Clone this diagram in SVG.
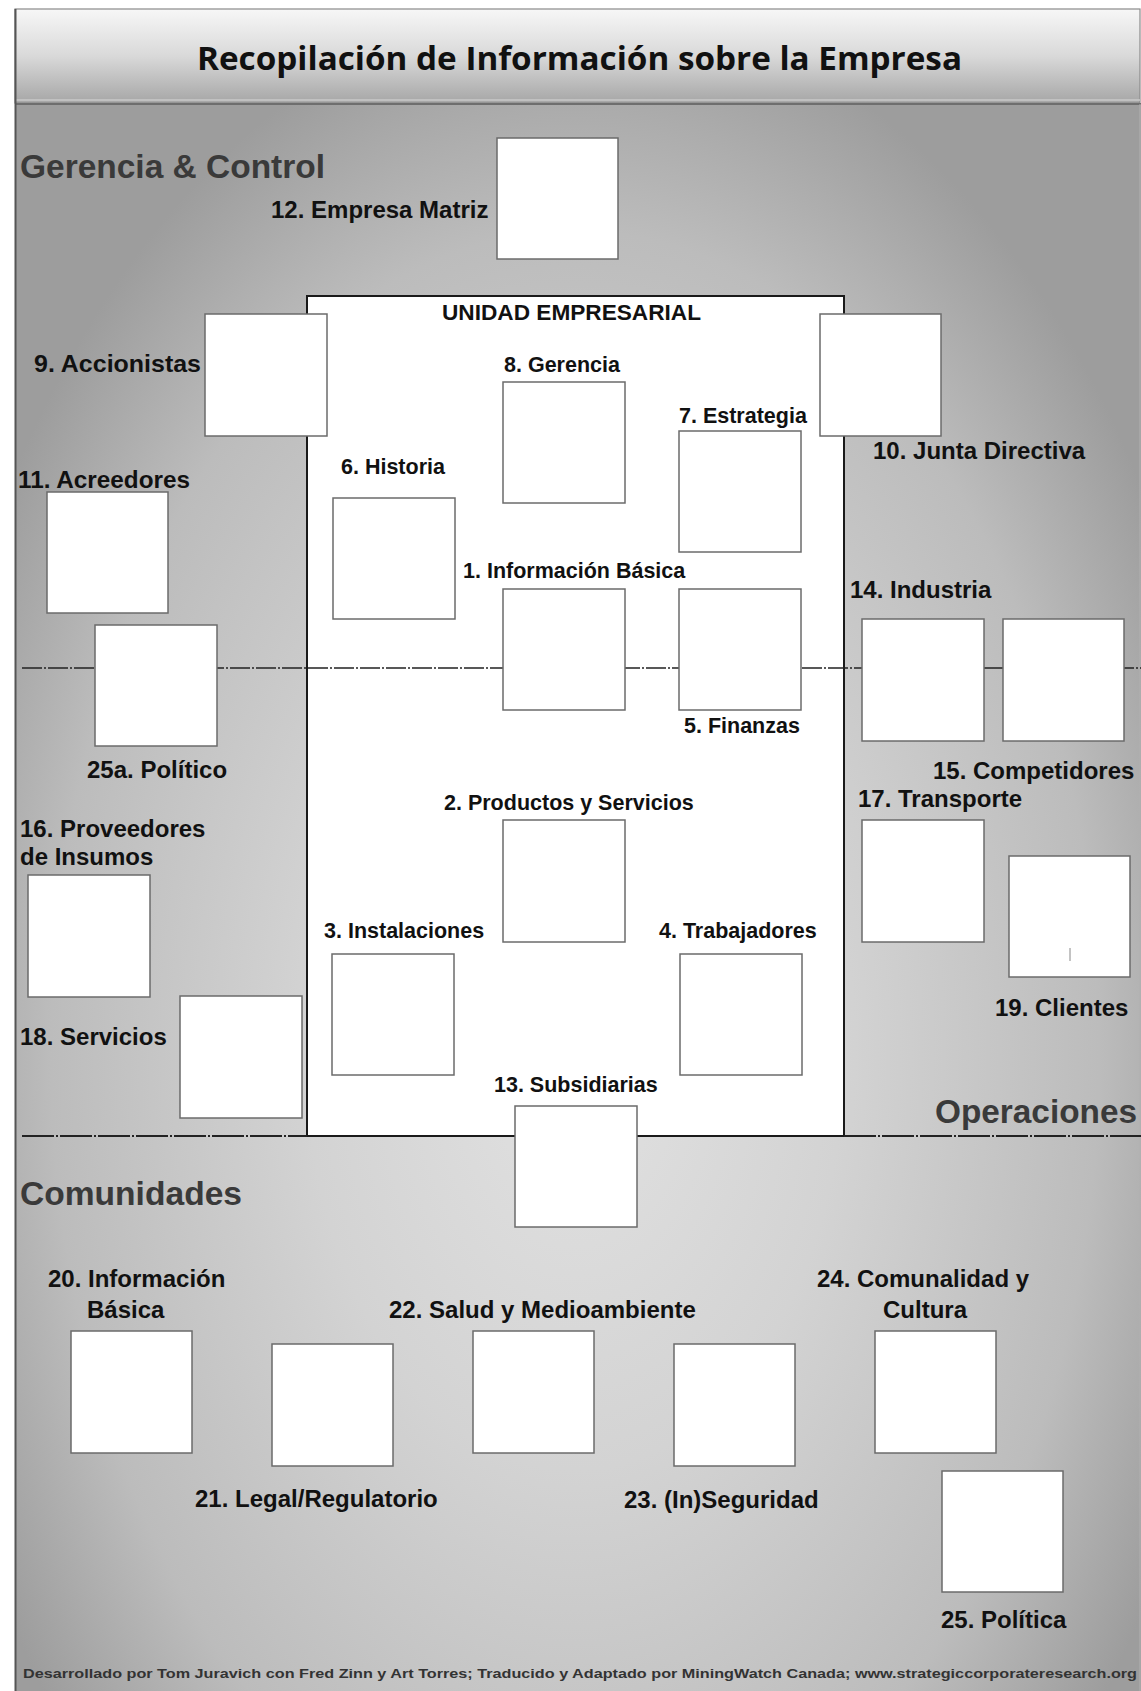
<svg xmlns="http://www.w3.org/2000/svg" width="1141" height="1691" viewBox="0 0 1141 1691">
  <defs>
    <linearGradient id="hdr" x1="0" y1="0" x2="0" y2="1">
      <stop offset="0" stop-color="#f7f7f7"/>
      <stop offset="0.5" stop-color="#d9d9d9"/>
      <stop offset="1" stop-color="#a6a6a6"/>
    </linearGradient>
    <radialGradient id="body" gradientUnits="userSpaceOnUse" cx="575" cy="1050" r="1050" gradientTransform="translate(575 1050) scale(0.64 1) translate(-575 -1050)">
      <stop offset="0" stop-color="#e2e2e2"/>
      <stop offset="0.4" stop-color="#d3d3d3"/>
      <stop offset="0.78" stop-color="#bcbcbc"/>
      <stop offset="1" stop-color="#9d9d9d"/>
    </radialGradient>
    <style>
      .box { fill: #ffffff; stroke: #6b6b6b; stroke-width: 1.5; }
      .lbl { font-family: "Liberation Sans", Arial, Helvetica, sans-serif; font-weight: bold; font-size: 24px; fill: #111111; }
      .in { font-family: "Liberation Sans", Arial, Helvetica, sans-serif; font-weight: bold; font-size: 21.5px; fill: #111111; }
      .sec { font-family: "Liberation Sans", Arial, Helvetica, sans-serif; font-weight: bold; font-size: 33px; fill: #3a3a3a; }
      .div1 { stroke: #222222; stroke-width: 1.6; fill: none; stroke-dasharray: 20 2 2 2; }
      .div2 { stroke: #222222; stroke-width: 1.8; fill: none; stroke-dasharray: 32 2 2 2; }
    </style>
  </defs>

  <rect x="0" y="0" width="1141" height="1691" fill="#ffffff"/>
  <!-- body background -->
  <rect x="15" y="104" width="1126" height="1587" fill="url(#body)"/>
  <!-- header -->
  <g id="header">
    <rect x="15" y="9" width="1125" height="94" fill="url(#hdr)" stroke="#8a8a8a" stroke-width="1.2"/>
    <line x1="15" y1="100" x2="1140" y2="100" stroke="#c8c8c8" stroke-width="1.5"/>
    <line x1="15" y1="104" x2="1141" y2="104" stroke="#6e6e6e" stroke-width="2"/>
    <text x="197" y="70" textLength="765" lengthAdjust="spacingAndGlyphs" style="font-family:'Open Sans','Liberation Sans',sans-serif;font-weight:bold;font-size:33px;fill:#111111">Recopilación de Información sobre la Empresa</text>
  </g>
  <!-- frame edges -->
  <line x1="15.5" y1="9" x2="15.5" y2="1691" stroke="#555555" stroke-width="2"/>
  <line x1="1140" y1="104" x2="1140" y2="1691" stroke="#b0b0b0" stroke-width="1"/>

  <!-- section titles -->
  <g id="sections">
    <text class="sec" x="20" y="178" textLength="305" lengthAdjust="spacingAndGlyphs">Gerencia &amp; Control</text>
    <text class="sec" x="935" y="1123" textLength="202" lengthAdjust="spacingAndGlyphs">Operaciones</text>
    <text class="sec" x="20" y="1205" textLength="222" lengthAdjust="spacingAndGlyphs">Comunidades</text>
  </g>

  <!-- business unit container -->
  <g id="unidad">
    <rect x="307" y="296" width="537" height="840" fill="#ffffff" stroke="#1a1a1a" stroke-width="2"/>
    <text class="in" x="442" y="320" textLength="259" lengthAdjust="spacingAndGlyphs">UNIDAD EMPRESARIAL</text>
  </g>

  <!-- divider lines -->
  <g id="connectors">
    <line class="div1" x1="22" y1="668" x2="1141" y2="668"/>
    <line class="div2" x1="22" y1="1136" x2="307" y2="1136"/>
    <line class="div2" x1="844" y1="1136" x2="1141" y2="1136"/>
    <line x1="307" y1="1136" x2="844" y2="1136" stroke="#1a1a1a" stroke-width="2"/>
  </g>

  <!-- nodes -->
  <g id="n12"><rect class="box" x="497" y="138" width="121" height="121"/><text class="lbl" x="271" y="218">12. Empresa Matriz</text></g>
  <g id="n9"><rect class="box" x="205" y="314" width="122" height="122"/><text class="lbl" x="34" y="372" textLength="167" lengthAdjust="spacingAndGlyphs">9. Accionistas</text></g>
  <g id="n10"><rect class="box" x="820" y="314" width="121" height="122"/><text class="lbl" x="873" y="459">10. Junta Directiva</text></g>
  <g id="n8"><rect class="box" x="503" y="382" width="122" height="121"/><text class="in" x="504" y="372">8. Gerencia</text></g>
  <g id="n7"><rect class="box" x="679" y="431" width="122" height="121"/><text class="in" x="679" y="423">7. Estrategia</text></g>
  <g id="n6"><rect class="box" x="333" y="498" width="122" height="121"/><text class="in" x="341" y="474">6. Historia</text></g>
  <g id="n11"><rect class="box" x="47" y="492" width="121" height="121"/><text class="lbl" x="18" y="488" textLength="172" lengthAdjust="spacingAndGlyphs">11. Acreedores</text></g>
  <g id="n1"><rect class="box" x="503" y="589" width="122" height="121"/><text class="in" x="463" y="578">1. Información Básica</text></g>
  <g id="n5"><rect class="box" x="679" y="589" width="122" height="121"/><text class="in" x="684" y="733">5. Finanzas</text></g>
  <g id="n14"><rect class="box" x="862" y="619" width="122" height="122"/><text class="lbl" x="850" y="598">14. Industria</text></g>
  <g id="n15"><rect class="box" x="1003" y="619" width="121" height="122"/><text class="lbl" x="933" y="779">15. Competidores</text></g>
  <g id="n25a"><rect class="box" x="95" y="625" width="122" height="121"/><text class="lbl" x="87" y="778">25a. Político</text></g>
  <g id="n2"><rect class="box" x="503" y="820" width="122" height="122"/><text class="in" x="444" y="810">2. Productos y Servicios</text></g>
  <g id="n17"><rect class="box" x="862" y="820" width="122" height="122"/><text class="lbl" x="858" y="807">17. Transporte</text></g>
  <g id="n19"><rect class="box" x="1009" y="856" width="121" height="121"/><line x1="1070" y1="948" x2="1070" y2="961" stroke="#888888" stroke-width="1"/><text class="lbl" x="995" y="1016">19. Clientes</text></g>
  <g id="n16"><rect class="box" x="28" y="875" width="122" height="122"/><text class="lbl" x="20" y="837">16. Proveedores</text><text class="lbl" x="20" y="865">de Insumos</text></g>
  <g id="n3"><rect class="box" x="332" y="954" width="122" height="121"/><text class="in" x="324" y="938">3. Instalaciones</text></g>
  <g id="n4"><rect class="box" x="680" y="954" width="122" height="121"/><text class="in" x="659" y="938">4. Trabajadores</text></g>
  <g id="n18"><rect class="box" x="180" y="996" width="122" height="122"/><text class="lbl" x="20" y="1045">18. Servicios</text></g>
  <g id="n13"><rect class="box" x="515" y="1106" width="122" height="121"/><text class="in" x="494" y="1092">13. Subsidiarias</text></g>
  <g id="n20"><rect class="box" x="71" y="1331" width="121" height="122"/><text class="lbl" x="48" y="1287">20. Información</text><text class="lbl" x="87" y="1318">Básica</text></g>
  <g id="n21"><rect class="box" x="272" y="1344" width="121" height="122"/><text class="lbl" x="195" y="1507">21. Legal/Regulatorio</text></g>
  <g id="n22"><rect class="box" x="473" y="1331" width="121" height="122"/><text class="lbl" x="389" y="1318">22. Salud y Medioambiente</text></g>
  <g id="n23"><rect class="box" x="674" y="1344" width="121" height="122"/><text class="lbl" x="624" y="1508">23. (In)Seguridad</text></g>
  <g id="n24"><rect class="box" x="875" y="1331" width="121" height="122"/><text class="lbl" x="817" y="1287">24. Comunalidad y</text><text class="lbl" x="883" y="1318">Cultura</text></g>
  <g id="n25"><rect class="box" x="942" y="1471" width="121" height="121"/><text class="lbl" x="941" y="1628">25. Política</text></g>

  <!-- footer -->
  <g id="footer">
    <text x="23" y="1678" textLength="1114" lengthAdjust="spacingAndGlyphs" style="font-family:'Liberation Sans',Arial,sans-serif;font-weight:bold;font-size:13.5px;fill:#333333">Desarrollado por Tom Juravich con Fred Zinn y Art Torres; Traducido y Adaptado por MiningWatch Canada; www.strategiccorporateresearch.org</text>
  </g>
</svg>
